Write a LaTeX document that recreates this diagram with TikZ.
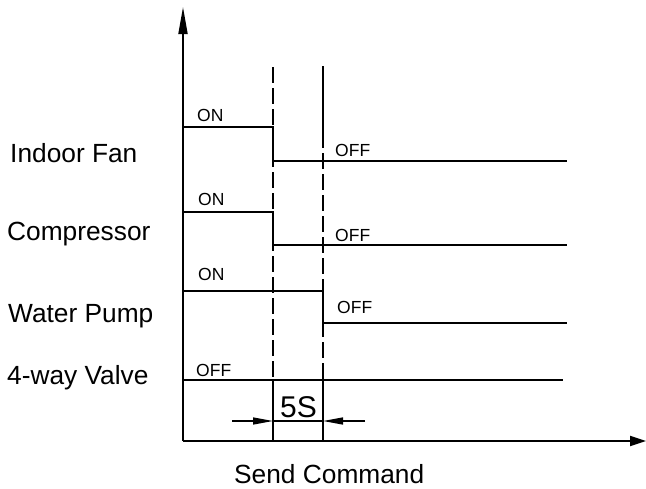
\documentclass[tikz,border=0pt]{standalone}
\usepackage{fontspec}
\setmainfont{Liberation Sans}
\usetikzlibrary{arrows.meta}

\begin{document}
\begin{tikzpicture}[x=1pt,y=-1pt,
  sig/.style={line width=1.6pt},
  axis/.style={line width=1.8pt,-{Triangle[length=27pt,width=9pt]}},
  guide/.style={line width=1.6pt,dash pattern=on 16pt off 5pt},
  dim/.style={line width=1.4pt,-{Triangle[length=20pt,width=7pt]}},
  lbl/.style={anchor=base west,inner sep=0pt,font=\fontsize{26.3}{30}\selectfont},
  state/.style={anchor=base west,inner sep=0pt,font=\fontsize{17.5}{20}\selectfont}
]
  \useasboundingbox (0,0) rectangle (646,488);

  % axes
  \coordinate (o) at (183,441);
  \coordinate (ytop) at (183,7);
  \coordinate (xend) at (646,441);
  \draw[axis] (o) -- (ytop);
  \draw[axis,-{Triangle[length=16pt,width=10pt]}] (o) -- (xend);

  % time marks
  \coordinate (t1top) at (273,67);
  \coordinate (t1ext) at (273,380);
  \coordinate (t1bot) at (273,441);
  \coordinate (t2top) at (323,66);
  \coordinate (t2ext) at (323,132);
  \coordinate (t2dim) at (323,380);
  \coordinate (t2bot) at (323,441);
  \draw[guide] (t1top) -- (t1ext);
  \draw[sig] (t1ext) -- (t1bot);
  \draw[sig] (t2top) -- (t2ext);
  \draw[guide] (t2ext) -- (t2dim);
  \draw[sig] (t2dim) -- (t2bot);

  % signals
  \draw[sig] (183,127) -- (273,127) -- (273,161) -- (567,161);
  \draw[sig] (183,212) -- (273,212) -- (273,245) -- (567,245);
  \draw[sig] (183,291) -- (323,291) -- (323,323) -- (567,323);
  \draw[sig] (183,380) -- (563,380);

  \node[lbl] (fan) at (10,162) {Indoor Fan};
  \node[lbl] (comp) at (7,240) {Compressor};
  \node[lbl] (pump) at (8,322) {Water Pump};
  \node[lbl] (valve) at (7,384) {4-way Valve};
  \node[lbl] (cmd) at (234,483) {Send Command};

  \node[state] (fanon) at (197,121) {ON};
  \node[state] (compon) at (198,205) {ON};
  \node[state] (pumpon) at (198,280) {ON};
  \node[state] (fanoff) at (335,156) {OFF};
  \node[state] (compoff) at (335,241) {OFF};
  \node[state] (pumpoff) at (337,313) {OFF};
  \node[state] (valveoff) at (196,376) {OFF};

  % 5 s delay
  \coordinate (dl) at (232,421);
  \coordinate (dr) at (365,421);
  \draw[dim] (dl) -- (273,421);
  \draw[dim] (dr) -- (323,421);
  \draw[line width=1.4pt] (273,421) -- (323,421);
  \node[anchor=base,inner sep=0pt,font=\fontsize{30}{34}\selectfont] (delay) at (298.5,417) {5S};
\end{tikzpicture}
\end{document}
